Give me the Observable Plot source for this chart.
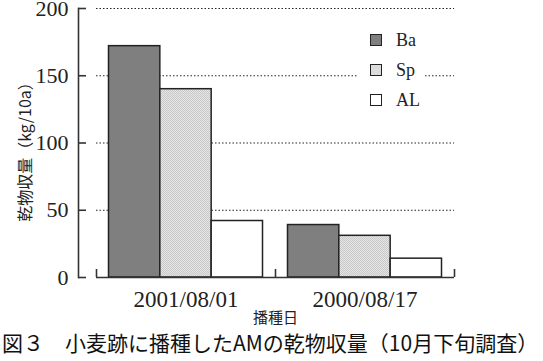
<!DOCTYPE html>
<html><head><meta charset="utf-8">
<script src="https://cdn.jsdelivr.net/npm/d3@7"></script>
<script src="https://cdn.jsdelivr.net/npm/@observablehq/plot@0.6"></script>
<style>
body{margin:0;background:#fff;}
#wrap{position:relative;width:543px;height:361px;overflow:hidden;}
#chart svg{overflow:visible;}
#cap{font-family:"Noto Sans CJK JP",sans-serif;font-size:21px;line-height:32px;height:35px;white-space:nowrap;color:#111;margin-left:2px;}
#legend{position:absolute;left:357px;top:22px;width:68px;height:96px;background:#fff;}
.li{position:absolute;left:13px;width:80px;height:14px;font-family:"Liberation Serif",serif;font-size:18px;color:#222;}
.sw{position:absolute;left:0;top:0;width:10px;height:10px;border:1.6px solid #222;}
.lt{position:absolute;left:26px;top:-4px;line-height:20px;}
</style></head><body>
<div id="wrap"><div id="chart"></div><div id="cap"></div><div id="legend"></div></div>
<script>
const dates = ["2001/08/01", "2000/08/17"];
const series = ["Ba", "Sp", "AL"];
const Ba = [172, 39];
const Sp = [140, 31];
const AL = [42, 14];
const yTicks = [0, 50, 100, 150, 200];
const gridTicks = [50, 100, 150, 200];
const yLabel = "乾物収量（kg/10a）";
const xLabel = "播種日";
const caption = "図３　小麦跡に播種したAMの乾物収量（10月下旬調査）";

const values = {Ba, Sp, AL};
const fills = {Ba: "#7f7f7f", Sp: "url(#sp-pat)", AL: "#ffffff"};
const data = [];
series.forEach(s => dates.forEach((d, i) => data.push({date: d, series: s, value: values[s][i]})));

const W = 543, H = 326, mL = 78, mR = 89, mT = 8, mB = 49;
const bandW = (W - mR) - 96;
const step = bandW / dates.length;
const pad = 12.5;
const barW = (step - 2 * pad) / series.length;
const serif = "Liberation Serif, serif";

const defs = () => {
  const g = d3.create("svg:defs");
  const p = g.append("pattern").attr("id", "sp-pat").attr("width", 2).attr("height", 2).attr("patternUnits", "userSpaceOnUse");
  p.append("rect").attr("width", 2).attr("height", 2).attr("fill", "#e6e6e6");
  p.append("rect").attr("width", 1).attr("height", 1).attr("fill", "#c8c8c8");
  p.append("rect").attr("x", 1).attr("y", 1).attr("width", 1).attr("height", 1).attr("fill", "#c8c8c8");
  return g.node();
};

const barMarks = series.map((s, i) => Plot.barY(data.filter(d => d.series === s), {
  x: "date", y: "value",
  fill: fills[s], stroke: "#222", strokeWidth: 1.5,
  insetLeft: pad + i * barW, insetRight: step - pad - (i + 1) * barW
}));

const chart = Plot.plot({
  width: W, height: H,
  marginLeft: mL, marginRight: mR, marginTop: mT, marginBottom: mB,
  style: {fontFamily: serif, fontSize: "22px", color: "#222", background: "#fff", overflow: "visible"},
  x: {domain: dates, range: [96, W - mR], padding: 0, axis: null},
  y: {domain: [0, 200], axis: null},
  marks: [
    defs,
    Plot.ruleY(gridTicks, {stroke: "#222", strokeWidth: 1, strokeDasharray: "1.5,2", insetLeft: 96 - mL}),
    ...barMarks,
    Plot.ruleY([0], {stroke: "#333", strokeWidth: 1.6, insetLeft: 96 - mL}),
    Plot.ruleY(yTicks, {stroke: "#333", strokeWidth: 1.6, insetRight: (W - mR - mL) - 8}),
    Plot.frame({anchor: "left", stroke: "#333", strokeWidth: 1.6}),
    Plot.ruleX(dates, {x: d => d, dx: -step / 2, stroke: "#333", strokeWidth: 1.6, insetTop: (H - mB - mT) - 8}),
    Plot.ruleX(dates.slice(-1), {x: d => d, dx: step / 2, stroke: "#333", strokeWidth: 1.6, insetTop: (H - mB - mT) - 8}),
    Plot.axisY(yTicks, {tickSize: 0, tickPadding: 10, fontSize: 22, fontFamily: serif, fill: "#222", label: null}),
    Plot.axisX({tickSize: 0, tickPadding: 13, fontSize: 23, fontFamily: serif, fill: "#222", label: null}),
    Plot.text([yLabel], {frameAnchor: "left", textAnchor: "middle", rotate: -90, dx: -53, dy: 5, fontSize: 16, fontFamily: "Noto Sans CJK JP, sans-serif", fill: "#222"}),
    Plot.text([xLabel], {frameAnchor: "bottom", dx: 9, dy: 45, fontSize: 15, fontFamily: "Noto Sans CJK JP, sans-serif", fill: "#222"})
  ]
});
document.getElementById("chart").appendChild(chart);
document.getElementById("cap").textContent = caption;

const legend = document.getElementById("legend");
const swFill = {Ba: "#7f7f7f", Sp: "#dcdcdc", AL: "#ffffff"};
series.forEach((s, i) => {
  const li = document.createElement("div");
  li.className = "li";
  li.style.top = (12 + i * 30) + "px";
  li.innerHTML = `<div class="sw" style="background:${swFill[s]}"></div><div class="lt">${s}</div>`;
  legend.appendChild(li);
});
</script>
</body></html>
